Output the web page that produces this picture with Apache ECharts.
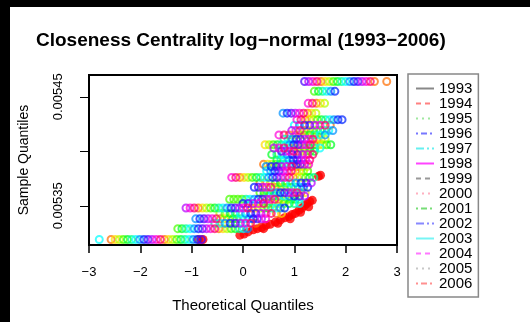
<!DOCTYPE html>
<html><head><meta charset="utf-8">
<script src="https://cdn.jsdelivr.net/npm/echarts@6/dist/echarts.min.js"></script>
<style>html,body{margin:0;padding:0;background:#fff}#c{width:530px;height:322px;position:absolute;left:0;top:0}
.blk{position:absolute;background:#000;z-index:10}</style></head>
<body><div id="c"></div>
<div class="blk" style="left:0;top:0;width:530px;height:7px"></div>
<div class="blk" style="left:0;top:0;width:10px;height:322px"></div>
<script>
const years = ['1993','1994','1995','1996','1997','1998','1999','2000','2001','2002','2003','2004','2005','2006'];
const xTicks = [-3,-2,-1,0,1,2,3];
const yTicks = [0.00535,0.0054,0.00545];
const yLabels = [0.00535,0.00545];

const q1993 = [[-0.86,0.005319],[-0.78,0.005319],[-0.06,0.005323],[0.02,0.005324],[0.10,0.005326],[0.20,0.005328],[0.28,0.005329],[0.36,0.005330],[0.40,0.005329],[0.45,0.005332],[0.53,0.005333],[0.63,0.005335],[0.68,0.005334],[0.73,0.005337],[0.81,0.005339],[0.89,0.005340],[0.92,0.005338],[0.96,0.005342],[1.02,0.005343],[1.09,0.005346],[1.12,0.005344],[1.15,0.005348],[1.20,0.005350],[1.25,0.005352],[1.28,0.005349],[1.30,0.005354],[1.35,0.005355],[1.47,0.005377],[1.51,0.005378]];
const q1994 = [[-2.57,0.005319],[-1.53,0.005319],[-0.47,0.005329],[0.25,0.005334],[-0.44,0.005338],[0.65,0.005343],[-0.87,0.005348],[0.17,0.005348],[0.50,0.005352],[0.70,0.005356],[1.13,0.005362],[0.62,0.005367],[0.33,0.005371],[-0.06,0.005376],[0.98,0.005376],[1.02,0.005382],[1.05,0.005386],[0.40,0.005388],[1.07,0.005400],[0.90,0.005403],[1.39,0.005406],[1.44,0.005411],[0.90,0.005415],[1.19,0.005419],[1.70,0.005424],[1.21,0.005429],[1.26,0.005435],[1.43,0.005444],[1.52,0.005464],[2.56,0.005464],[2.80,0.005464]];
const q1995 = [[-2.49,0.005319],[-1.45,0.005319],[-0.39,0.005329],[-0.36,0.005338],[0.75,0.005343],[-0.79,0.005348],[0.25,0.005348],[0.60,0.005352],[0.78,0.005356],[1.21,0.005362],[0.70,0.005367],[0.43,0.005371],[0.02,0.005376],[1.06,0.005376],[1.10,0.005382],[1.15,0.005386],[0.48,0.005388],[1.15,0.005400],[1.00,0.005403],[0.43,0.005406],[1.47,0.005406],[1.52,0.005411],[1.00,0.005415],[1.27,0.005419],[1.29,0.005429],[1.34,0.005435],[1.51,0.005444],[1.60,0.005464]];
const q1996 = [[-2.41,0.005319],[-1.37,0.005319],[-0.31,0.005329],[-0.28,0.005338],[-0.45,0.005343],[-0.71,0.005348],[0.33,0.005348],[0.70,0.005352],[0.86,0.005356],[0.40,0.005359],[0.78,0.005367],[0.53,0.005371],[0.10,0.005376],[1.14,0.005376],[1.18,0.005382],[1.25,0.005386],[0.56,0.005388],[1.23,0.005400],[1.10,0.005403],[0.51,0.005406],[1.55,0.005406],[1.60,0.005411],[1.10,0.005415],[1.35,0.005419],[1.37,0.005429],[1.42,0.005435],[1.59,0.005444],[1.68,0.005464]];
const q1997 = [[-2.33,0.005319],[-1.29,0.005319],[-1.27,0.005329],[-0.23,0.005329],[-0.20,0.005338],[-0.35,0.005343],[-0.63,0.005348],[0.41,0.005348],[0.80,0.005352],[-0.26,0.005356],[-0.18,0.005356],[-0.10,0.005356],[-0.02,0.005356],[0.94,0.005356],[0.50,0.005359],[0.33,0.005362],[0.86,0.005367],[0.63,0.005371],[0.18,0.005376],[1.22,0.005376],[1.26,0.005382],[0.64,0.005388],[1.31,0.005400],[1.20,0.005403],[0.59,0.005406],[1.63,0.005406],[1.20,0.005415],[1.43,0.005419],[1.45,0.005429],[1.39,0.005455],[1.76,0.005464]];
const q1998 = [[-2.25,0.005319],[-1.21,0.005319],[-1.19,0.005329],[-0.15,0.005329],[-0.12,0.005338],[-0.25,0.005343],[-0.55,0.005348],[0.49,0.005348],[0.90,0.005352],[1.02,0.005356],[0.60,0.005359],[0.41,0.005362],[0.94,0.005367],[0.73,0.005371],[0.26,0.005376],[1.30,0.005376],[0.72,0.005388],[0.66,0.005392],[0.56,0.005397],[1.39,0.005400],[1.30,0.005403],[0.67,0.005406],[1.71,0.005406],[1.30,0.005415],[1.51,0.005419],[1.53,0.005429],[1.47,0.005455],[1.84,0.005464]];
const q1999 = [[-2.17,0.005319],[-1.13,0.005319],[-1.11,0.005329],[-0.07,0.005329],[-0.55,0.005334],[-0.04,0.005338],[-0.15,0.005343],[-0.47,0.005348],[0.57,0.005348],[1.00,0.005352],[0.06,0.005356],[1.10,0.005356],[0.70,0.005359],[0.49,0.005362],[1.02,0.005367],[0.83,0.005371],[0.34,0.005376],[1.38,0.005376],[0.80,0.005388],[0.74,0.005392],[0.66,0.005397],[1.40,0.005403],[0.75,0.005406],[0.80,0.005411],[1.40,0.005415],[1.59,0.005419],[1.61,0.005429],[1.55,0.005455],[1.92,0.005464]];
const q2000 = [[-2.80,0.005319],[-2.09,0.005319],[-1.05,0.005319],[-1.03,0.005329],[0.01,0.005329],[-0.45,0.005334],[0.04,0.005338],[-0.05,0.005343],[-0.39,0.005348],[0.65,0.005348],[1.10,0.005352],[0.14,0.005356],[0.80,0.005359],[0.57,0.005362],[1.10,0.005367],[0.93,0.005371],[0.42,0.005376],[0.46,0.005382],[0.88,0.005388],[0.82,0.005392],[0.76,0.005397],[1.50,0.005403],[0.83,0.005406],[0.88,0.005411],[1.50,0.005415],[1.67,0.005419],[1.00,0.005424],[1.69,0.005429],[1.63,0.005455],[2.00,0.005464]];
const q2001 = [[-2.01,0.005319],[-0.97,0.005319],[-0.95,0.005329],[0.09,0.005329],[-0.35,0.005334],[-0.92,0.005338],[0.12,0.005338],[0.05,0.005343],[-0.31,0.005348],[0.73,0.005348],[0.22,0.005356],[0.90,0.005359],[0.65,0.005362],[1.18,0.005367],[1.03,0.005371],[0.50,0.005376],[0.54,0.005382],[0.45,0.005386],[0.96,0.005388],[0.90,0.005392],[0.86,0.005397],[0.91,0.005406],[0.96,0.005411],[1.60,0.005415],[1.75,0.005419],[1.10,0.005424],[1.77,0.005429],[0.78,0.005435],[1.71,0.005455],[2.08,0.005464]];
const q2002 = [[-1.93,0.005319],[-0.89,0.005319],[-0.87,0.005329],[-0.25,0.005334],[-0.84,0.005338],[0.20,0.005338],[0.15,0.005343],[-0.23,0.005348],[0.81,0.005348],[0.00,0.005352],[0.30,0.005356],[1.00,0.005359],[0.73,0.005362],[0.22,0.005367],[1.26,0.005367],[1.13,0.005371],[0.58,0.005376],[0.62,0.005382],[0.55,0.005386],[1.04,0.005388],[0.98,0.005392],[0.96,0.005397],[0.99,0.005406],[1.04,0.005411],[1.20,0.005424],[1.85,0.005429],[1.93,0.005429],[0.86,0.005435],[1.79,0.005455],[2.16,0.005464]];
const q2003 = [[-1.85,0.005319],[-0.81,0.005319],[-0.79,0.005329],[-0.15,0.005334],[-0.76,0.005338],[0.28,0.005338],[0.25,0.005343],[-0.15,0.005348],[0.10,0.005352],[0.38,0.005356],[1.10,0.005359],[0.81,0.005362],[0.30,0.005367],[1.23,0.005371],[0.66,0.005376],[0.70,0.005382],[0.65,0.005386],[1.12,0.005388],[1.06,0.005392],[1.06,0.005397],[0.75,0.005400],[1.07,0.005406],[1.12,0.005411],[1.30,0.005424],[0.94,0.005435],[1.20,0.005464],[2.24,0.005464]];
const q2004 = [[-1.77,0.005319],[-0.71,0.005329],[-0.05,0.005334],[-0.68,0.005338],[0.36,0.005338],[0.35,0.005343],[-1.11,0.005348],[-0.07,0.005348],[0.20,0.005352],[0.46,0.005356],[1.20,0.005359],[0.89,0.005362],[0.38,0.005367],[1.33,0.005371],[0.74,0.005376],[0.78,0.005382],[0.75,0.005386],[1.20,0.005388],[1.14,0.005392],[1.16,0.005397],[0.83,0.005400],[0.60,0.005403],[1.15,0.005406],[1.20,0.005411],[0.95,0.005419],[1.40,0.005424],[1.02,0.005435],[1.28,0.005464],[2.32,0.005464]];
const q2005 = [[-1.69,0.005319],[-0.63,0.005329],[0.05,0.005334],[-0.60,0.005338],[0.44,0.005338],[0.45,0.005343],[-1.03,0.005348],[0.01,0.005348],[0.30,0.005352],[0.54,0.005356],[0.97,0.005362],[0.46,0.005367],[-0.22,0.005376],[0.82,0.005376],[0.86,0.005382],[0.85,0.005386],[1.28,0.005388],[1.22,0.005392],[1.26,0.005397],[0.91,0.005400],[0.70,0.005403],[1.23,0.005406],[1.28,0.005411],[0.70,0.005415],[1.03,0.005419],[1.50,0.005424],[1.05,0.005429],[1.10,0.005435],[1.27,0.005444],[1.36,0.005464],[2.40,0.005464]];
const q2006 = [[-1.61,0.005319],[-0.55,0.005329],[0.15,0.005334],[-0.52,0.005338],[0.55,0.005343],[-0.95,0.005348],[0.09,0.005348],[0.40,0.005352],[0.62,0.005356],[1.05,0.005362],[0.54,0.005367],[-0.14,0.005376],[0.90,0.005376],[0.94,0.005382],[0.95,0.005386],[1.30,0.005392],[1.36,0.005397],[0.99,0.005400],[0.80,0.005403],[1.31,0.005406],[1.36,0.005411],[0.80,0.005415],[1.11,0.005419],[1.60,0.005424],[1.13,0.005429],[1.18,0.005435],[1.35,0.005444],[1.44,0.005464],[2.48,0.005464]];

const pointSets = [q1993,q1994,q1995,q1996,q1997,q1998,q1999,q2000,q2001,q2002,q2003,q2004,q2005,q2006];
const pointColors = ['#FF0000','#FF6D00','#FFDB00','#B6FF00','#49FF00','#00FF24','#00FF92','#00FFFF','#0092FF','#0024FF','#4900FF','#B600FF','#FF00DB','#FF006D'];
const legendColors = ['#888888','#ff8080','#a0e8a0','#7777ff','#66f0f0','#ff44ff','#999999','#ffb0c0','#77dd77','#8888ff','#77f5f5','#ff77ff','#c8c8c8','#ff9090'];
const legendDash = ['solid',[5,4],[2,4],[2,3,6,3],[8,3,2,3],'solid',[5,4],[2,4],[2,3,6,3],[8,3,2,3],'solid',[5,4],[2,4],[2,3,6,3]];

const font = 'Liberation Sans, Arial, Helvetica, sans-serif';
const series = [];
pointSets.forEach((d, i) => {
  if (i === 0) {
    series.push({type:'scatter', name:'p'+years[i], data:d, symbol:'circle', symbolSize:9, silent:true, z:1,
      itemStyle:{color:pointColors[i]}});
  } else {
    series.push({type:'scatter', name:'p'+years[i], data:d, symbol:'circle', symbolSize:7, silent:true, z:2,
      itemStyle:{color:'rgba(0,0,0,0)', borderColor:pointColors[i], borderWidth:2, opacity:0.72}});
  }
});
years.forEach((y, i) => {
  series.push({type:'line', name:y, data:[], symbol:'none', showSymbol:false,
    lineStyle:{color:legendColors[i], type:legendDash[i], width:2}, itemStyle:{color:legendColors[i]}});
});

const chart = echarts.init(document.getElementById('c'), null, {renderer:'canvas'});
chart.setOption({
  animation:false,
  backgroundColor:'#fff',
  textStyle:{fontFamily:font},
  title:{text:'Closeness Centrality log\u2212normal (1993\u22122006)', left:36, top:31, padding:0,
    textStyle:{fontSize:19, fontWeight:'bold', color:'#000', fontFamily:font}},
  grid:{left:89, top:75, width:308, height:170, show:true, borderColor:'#000', borderWidth:2, backgroundColor:'transparent'},
  legend:{orient:'vertical', left:408, top:74, padding:[7,6,6,7], itemGap:0, itemWidth:18, itemHeight:10, itemTextGap:7,
    borderColor:'#888', borderWidth:1.5, selectedMode:false, data:years,
    itemStyle:{opacity:0},
    textStyle:{fontSize:15, lineHeight:12, color:'#000', fontFamily:font}},
  xAxis:{type:'value', position:'bottom', min:xTicks[0], max:xTicks[xTicks.length-1], interval:1,
    axisLine:{show:true, onZero:false, lineStyle:{color:'#000', width:1}}, splitLine:{show:false},
    axisTick:{show:true, inside:false, length:8, lineStyle:{color:'#000', width:1.5}},
    axisLabel:{margin:21, fontSize:13, color:'#000', fontFamily:font, formatter:v=>String(v).replace('-','\u2212')},
    name:'Theoretical Quantiles', nameLocation:'middle', nameGap:53,
    nameTextStyle:{fontSize:15, color:'#000', fontFamily:font}},
  yAxis:{type:'value', min:0.005314, max:0.00547,
    axisLine:{show:true, onZero:false, lineStyle:{color:'#000', width:1}}, splitLine:{show:false},
    axisTick:{show:true, length:9, customValues:yTicks, lineStyle:{color:'#000', width:1}},
    axisLabel:{customValues:yLabels, rotate:90, margin:24, fontSize:13, color:'#000', fontFamily:font, formatter:v=>v.toFixed(5)},
    name:'Sample Quantiles', nameLocation:'middle', nameGap:58, nameRotate:90,
    nameTextStyle:{fontSize:14, color:'#000', fontFamily:font}},
  series:series
});
</script></body></html>
